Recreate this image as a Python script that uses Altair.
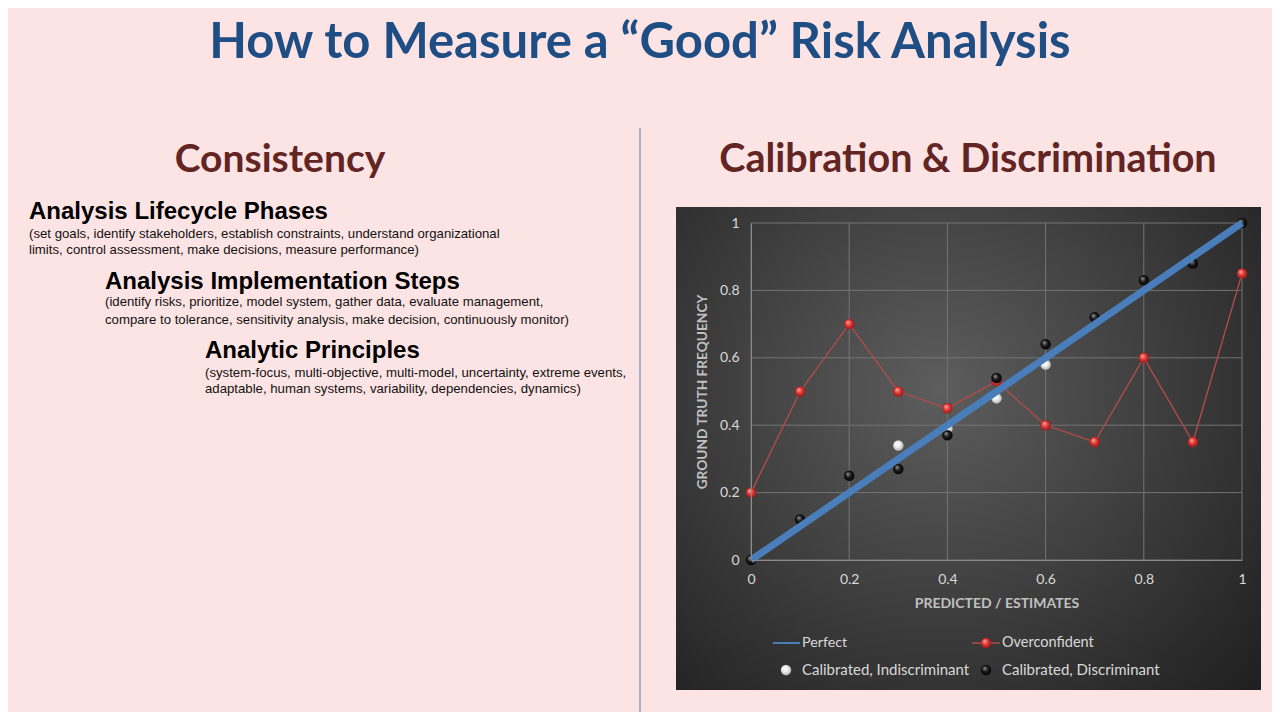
import altair as alt
import pandas as pd

# values
predicted = [0.0, 0.1, 0.2, 0.3, 0.4, 0.5, 0.6, 0.7, 0.8, 0.9, 1.0]
perfect = [0.0, 0.1, 0.2, 0.3, 0.4, 0.5, 0.6, 0.7, 0.8, 0.9, 1.0]
overconfident = [0.2, 0.5, 0.7, 0.5, 0.45, 0.53, 0.4, 0.35, 0.6, 0.35, 0.85]
discriminant = [0.0, 0.12, 0.25, 0.27, 0.37, 0.54, 0.64, 0.72, 0.83, 0.88, 1.0]
indiscriminant_pred = [0.3, 0.4, 0.5, 0.6]
indiscriminant = [0.34, 0.39, 0.48, 0.58]
axis_ticks = [0, 0.2, 0.4, 0.6, 0.8, 1]

W, H = 491, 337
# page position of the plot origin (top-left of the data area)
OX, OY = 751, 223

BG = "#FDE4E4"
LABEL = "#d9d9d9"
BALL = 110

df = pd.DataFrame({"pred": predicted, "perfect": perfect,
                   "over": overconfident, "disc": discriminant})
df_ind = pd.DataFrame({"pred": indiscriminant_pred, "ind": indiscriminant})
df_ticks = pd.DataFrame({"t": axis_ticks})

xs = alt.Scale(domain=[0, 1], nice=False, zero=False)
ys = alt.Scale(domain=[0, 1], nice=False, zero=False)

tick_fmt = "datum.value == 0 || datum.value == 1 ? format(datum.value, 'd') : format(datum.value, '.1f')"


def ball(c_light, c_mid, c_dark):
    return alt.Gradient(
        gradient="radial", x1=0.35, y1=0.3, r1=0.0, x2=0.5, y2=0.5, r2=0.55,
        stops=[alt.GradientStop(offset=0, color=c_light),
               alt.GradientStop(offset=0.5, color=c_mid),
               alt.GradientStop(offset=1, color=c_dark)],
    )


RED_BALL = ball("#ffb0a8", "#e03a36", "#8c1414")
WHITE_BALL = ball("#ffffff", "#f0f0f0", "#a8a8a8")
BLACK_BALL = ball("#9a9a9a", "#1a1a1a", "#000000")


def one():
    return alt.Data(values=[{}])


def label(text, px, py, size, color, font="Liberation Sans", weight="normal",
          align="left", angle=0):
    return alt.Chart(one()).mark_text(
        text=text, fontSize=size, font=font, fontWeight=weight, color=color,
        align=align, baseline="middle", angle=angle,
    ).encode(x=alt.value(px - OX), y=alt.value(py - OY))


def dot(fill, px, py):
    return alt.Chart(one()).mark_point(filled=True, fill=fill, size=BALL, opacity=1,
                                       strokeWidth=0).encode(
        x=alt.value(px - OX), y=alt.value(py - OY))


def seg(color, width, px1, px2, py):
    return alt.Chart(one()).mark_rule(color=color, strokeWidth=width).encode(
        x=alt.value(px1 - OX), x2=alt.value(px2 - OX), y=alt.value(py - OY))


panel = alt.Chart(one()).mark_rect(
    fill=alt.Gradient(
        gradient="radial", x1=0.45, y1=0.4, r1=0.0, x2=0.45, y2=0.4, r2=0.75,
        stops=[alt.GradientStop(offset=0, color="#5d5d5d"),
               alt.GradientStop(offset=1, color="#1f1f1f")],
    )
).encode(x=alt.value(676 - OX), x2=alt.value(1261 - OX),
         y=alt.value(207 - OY), y2=alt.value(690 - OY))

divider = alt.Chart(one()).mark_rule(color="#5a7bb5", strokeWidth=1).encode(
    x=alt.value(640 - OX), y=alt.value(128 - OY), y2=alt.value(730 - OY))

grid_x = alt.Chart(df_ticks).mark_rule(color="#747474", strokeWidth=1).encode(
    x=alt.X("t:Q", scale=xs))
grid_y = alt.Chart(df_ticks).mark_rule(color="#747474", strokeWidth=1).encode(
    y=alt.Y("t:Q", scale=ys))

base = alt.Chart(df).encode(
    x=alt.X("pred:Q", scale=xs, title=None,
            axis=alt.Axis(values=axis_ticks, grid=False, ticks=False, labelPadding=12,
                          labelFlush=False, labelExpr=tick_fmt, zindex=1)),
)

yaxis = alt.Axis(values=axis_ticks, grid=False, ticks=False, labelPadding=12,
                 labelFlush=False, labelExpr=tick_fmt, zindex=1)

over_line = base.mark_line(color="#b24c4a", strokeWidth=1.3).encode(
    y=alt.Y("over:Q", scale=ys, title=None, axis=yaxis))
over_pts = base.mark_point(filled=True, fill=RED_BALL, size=BALL, opacity=1, strokeWidth=0).encode(
    y=alt.Y("over:Q", scale=ys))
ind_pts = alt.Chart(df_ind).mark_point(filled=True, fill=WHITE_BALL, size=BALL, opacity=1,
                                       strokeWidth=0).encode(
    x=alt.X("pred:Q", scale=xs), y=alt.Y("ind:Q", scale=ys))
disc_pts = base.mark_point(filled=True, fill=BLACK_BALL, size=BALL, opacity=1, strokeWidth=0).encode(
    y=alt.Y("disc:Q", scale=ys))
perfect_line = base.mark_line(color="#4a7ebb", strokeWidth=7, strokeCap="butt").encode(
    y=alt.Y("perfect:Q", scale=ys))

texts = [
    label("How to Measure a \u201cGood\u201d Risk Analysis", 640, 43, 49, "#1F4E85",
          font="Lato", weight="bold", align="center"),
    label("Consistency", 280, 160, 39, "#632523", font="Lato", weight="bold", align="center"),
    label("Calibration & Discrimination", 968, 160, 39.5, "#632523", font="Lato",
          weight="bold", align="center"),
    label("Analysis Lifecycle Phases", 29, 212, 24, "#000000", weight="bold"),
    label("(set goals, identify stakeholders, establish constraints, understand organizational",
          29, 234, 13.2, "#111111"),
    label("limits, control assessment, make decisions, measure performance)", 29, 250, 13.2, "#111111"),
    label("Analysis Implementation Steps", 105, 282, 24, "#000000", weight="bold"),
    label("(identify risks, prioritize, model system, gather data, evaluate management,",
          105, 302, 13.2, "#111111"),
    label("compare to tolerance, sensitivity analysis, make decision, continuously monitor)",
          105, 320, 13.2, "#111111"),
    label("Analytic Principles", 205, 351, 24, "#000000", weight="bold"),
    label("(system-focus, multi-objective, multi-model, uncertainty, extreme events,",
          205, 373, 13.2, "#111111"),
    label("adaptable, human systems, variability, dependencies, dynamics)", 205, 389, 13.2, "#111111"),
    # axis titles
    label("GROUND TRUTH FREQUENCY", 703, 392, 13.7, "#c0c0c0", font="Lato", weight="bold",
          align="center", angle=270),
    label("PREDICTED / ESTIMATES", 997, 604, 14, "#c0c0c0", font="Lato", weight="bold",
          align="center"),
    # legend
    label("Perfect", 802, 643, 14.3, LABEL, font="Lato"),
    label("Overconfident", 1002, 643, 14.5, LABEL, font="Lato"),
    label("Calibrated, Indiscriminant", 802, 670, 15, LABEL, font="Lato"),
    label("Calibrated, Discriminant", 1002, 670, 15, LABEL, font="Lato"),
]

legend = [
    seg("#4a7ebb", 2, 773, 800, 643),
    seg("#b24c4a", 1.5, 972, 1000, 643),
    dot(RED_BALL, 986, 643),
    dot(WHITE_BALL, 786, 670),
    dot(BLACK_BALL, 986, 670),
]

chart = alt.layer(
    panel, divider, grid_x, grid_y, over_line, over_pts, ind_pts, disc_pts, perfect_line,
    *texts, *legend
).properties(
    width=W, height=H,
    autosize=alt.AutoSizeParams(type="none"),
    padding={"left": OX - 8, "top": OY - 8, "right": 1264 - (OX - 8) - W,
             "bottom": 704 - (OY - 8) - H},
).configure(
    background=BG,
).configure_view(
    stroke=None,
).configure_axis(
    domainColor="#8a8a8a", domainWidth=1,
    labelColor=LABEL, labelFont="Lato", labelFontSize=14,
)

chart.save("out.html", embed_options={"renderer": "svg", "actions": False})
